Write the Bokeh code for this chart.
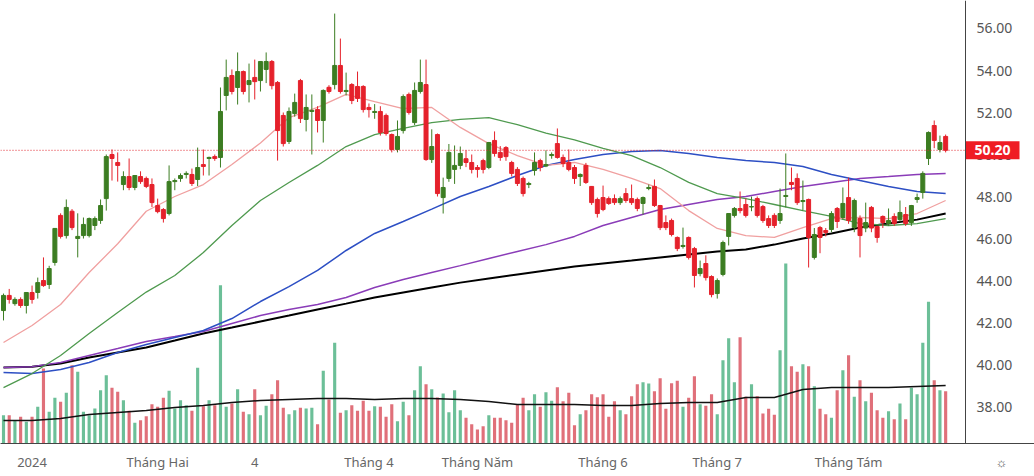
from bokeh.plotting import figure
from bokeh.models import Range1d, FixedTicker, Span, ColumnDataSource
from bokeh.core.properties import value
from bokeh.embed import file_html
from bokeh.resources import INLINE

# ---------------- data ----------------
opens = [42.57,43.29,42.9,43.1,42.81,43.43,43.43,44.0,43.81,44.86,
         47.1,46.14,47.3,46.0,46.14,46.14,46.62,46.86,47.9,50.0,
         49.62,48.57,48.95,48.43,48.95,48.86,48.57,47.57,47.38,47.19,
         48.71,48.86,49.05,49.05,48.81,49.52,49.81,49.9,49.86,52.81,
         53.76,53.19,53.95,53.33,53.67,53.52,54.05,54.43,53.43,51.86,
         50.62,51.95,53.52,51.67,52.05,52.14,51.62,53.2,53.33,54.24,
         53.0,53.33,53.24,53.24,52.24,52.0,52.05,51.86,50.95,50.24,
         51.14,52.86,51.52,53.0,53.33,49.76,50.95,47.95,48.86,49.29,
         49.48,49.8,49.62,49.38,49.71,49.38,50.67,50.1,50.33,49.62,
         49.29,48.86,48.57,49.24,49.71,49.45,49.95,50.52,49.86,49.62,
         49.38,48.95,49.48,48.48,47.86,47.95,47.9,47.9,47.71,48.14,
         47.9,47.86,47.67,48.38,48.48,47.57,46.76,46.86,46.05,45.62,
         46.05,45.52,44.33,44.81,44.19,43.38,44.29,46.1,47.1,47.43,
         47.62,47.5,47.9,47.52,46.95,47.1,46.86,48.0,48.67,48.86,
         47.76,47.86,45.1,46.52,46.38,46.43,47.43,47.0,47.95,46.52,
         46.95,46.5,47.48,46.57,47.05,46.71,47.05,46.9,47.14,46.76,
         47.86,48.19,49.81,51.38,50.24,50.86]
highs = [43.38,43.6,43.2,43.2,43.45,43.76,44.14,45.1,44.7,46.5,
         47.2,47.86,47.4,47.2,47.0,47.0,47.05,47.86,50.0,50.24,
         50.1,49.2,49.81,49.0,49.2,48.95,48.86,47.9,47.45,49.48,
         48.86,49.1,49.2,49.33,50.33,50.24,49.9,50.0,53.19,54.52,
         54.05,54.86,54.0,54.33,54.52,54.43,54.86,54.5,53.5,52.0,
         52.24,52.9,53.6,52.86,52.86,52.3,53.1,53.3,56.71,55.52,
         53.9,53.4,53.95,53.3,52.43,52.4,52.3,51.95,51.0,51.62,
         52.86,52.95,53.43,54.52,54.52,51.2,51.0,48.9,50.5,50.43,
         50.38,50.2,50.0,49.5,49.8,50.6,51.1,50.4,50.4,49.7,
         49.4,48.95,48.7,50.1,49.8,50.2,50.1,51.24,50.0,50.24,
         49.5,49.1,49.6,48.5,47.95,48.52,48.0,48.1,48.0,48.4,
         48.57,47.95,48.0,48.57,48.81,47.6,47.1,46.95,46.1,46.52,
         46.1,45.6,44.95,45.2,44.25,44.1,45.9,47.19,47.5,48.24,
         47.9,48.0,48.0,47.6,47.1,47.2,48.38,50.05,49.38,49.1,
         48.76,47.9,46.5,46.6,46.5,47.3,47.5,48.43,48.9,47.9,
         47.1,47.71,47.55,46.6,47.1,47.43,47.2,47.81,47.5,47.6,
         48.14,49.2,51.1,51.62,50.9,50.95]
lows = [42.1,42.9,42.8,42.7,42.43,42.9,43.14,43.7,43.6,44.71,
        46.0,46.0,46.4,45.1,46.0,46.05,46.4,46.7,47.33,48.76,
        48.71,48.3,48.3,48.3,48.6,48.4,47.5,47.2,46.76,47.1,
        48.3,48.7,48.86,48.5,48.5,49.0,49.0,49.7,49.38,52.1,
        52.86,52.38,52.86,52.48,52.62,53.0,53.4,53.1,49.71,50.38,
        50.5,51.8,51.5,51.1,50.0,51.05,50.57,52.9,53.1,52.9,
        52.81,52.4,52.5,52.0,51.76,51.7,50.9,50.9,50.1,50.1,
        51.0,51.9,51.4,52.9,49.7,49.6,48.0,47.19,48.7,48.6,
        49.3,49.4,49.1,48.9,49.1,49.3,49.9,49.7,49.7,48.95,
        48.5,48.0,48.4,49.0,49.2,49.4,49.8,49.8,49.4,49.2,
        48.6,48.5,48.6,47.6,47.0,47.3,47.6,47.6,47.6,47.7,
        47.6,47.3,47.14,48.3,47.5,46.4,46.4,46.1,45.4,45.52,
        45.0,43.67,44.2,44.0,43.2,43.14,44.2,45.67,47.0,47.2,
        47.0,47.3,47.0,46.75,46.5,46.5,46.7,47.48,48.3,47.6,
        47.33,44.62,45.0,45.3,46.1,46.3,46.5,46.9,46.7,46.3,
        45.1,46.3,46.3,45.8,46.5,46.6,46.6,46.8,46.6,46.6,
        47.7,47.9,49.5,50.3,50.1,50.1]
closes = [43.29,43.1,43.1,42.81,43.43,43.1,43.9,43.76,44.57,46.48,
          46.1,47.48,46.52,46.1,46.67,46.95,46.95,47.57,49.9,49.81,
          49.48,48.95,48.43,49.0,48.71,48.48,47.71,47.28,46.95,48.71,
          48.76,49.0,49.1,48.62,49.38,49.43,49.86,49.81,52.05,53.67,
          53.0,53.95,53.0,53.52,53.47,54.43,54.43,53.28,51.14,50.52,
          52.05,52.48,51.71,52.24,52.1,51.62,53.05,53.0,54.24,53.0,
          53.05,52.57,52.67,52.14,52.14,52.05,51.05,51.0,50.24,50.86,
          52.76,52.0,53.05,53.43,49.76,50.38,48.14,48.43,50.1,49.48,
          50.05,49.62,49.29,49.29,49.29,50.57,50.05,49.86,49.9,49.1,
          48.62,48.14,48.62,49.62,49.38,49.52,50.0,49.86,49.57,49.29,
          48.86,49.05,48.67,47.71,47.19,47.38,47.67,47.71,47.9,47.81,
          47.71,47.43,47.95,48.43,47.57,46.52,46.52,46.19,45.52,45.67,
          45.1,44.24,44.57,44.14,43.33,44.0,45.81,47.19,47.43,47.33,
          47.1,47.52,47.1,46.86,46.62,46.62,47.19,48.05,48.57,47.71,
          47.81,46.05,46.19,46.05,46.29,47.19,46.81,47.67,46.86,47.81,
          46.14,46.76,46.5,46.05,46.76,46.86,46.71,47.24,46.71,47.57,
          47.95,49.1,51.05,50.67,50.57,50.2]
# volume (10k shares)
volumes = [283,283,227,267,217,267,367,750,317,457,
           417,507,783,717,317,283,350,533,683,557,
           517,433,327,207,233,273,393,367,457,527,
           350,433,383,327,757,373,433,383,1583,367,
           400,543,317,293,543,283,377,493,633,357,
           293,333,357,350,357,193,727,440,1007,307,
           333,383,327,427,327,373,367,267,393,223,
           417,283,533,773,593,543,460,500,313,533,
           333,257,193,140,173,283,257,257,233,207,
           393,457,333,493,367,513,427,563,423,507,
           183,293,333,493,463,493,267,423,333,293,
           473,593,613,600,523,653,347,603,627,367,
           457,673,393,377,493,293,833,1053,613,1063,
           467,593,473,300,347,287,933,1800,773,717,
           793,773,573,347,293,257,533,733,883,467,
           633,423,507,333,257,323,243,400,243,557,
           493,1007,1417,633,533,523]

# moving averages sampled every 5 sessions
ma_idx = list(range(0, 166, 5))
ma10 = [41.05,41.86,42.86,44.38,45.75,47.3,48.0,48.57,49.52,50.55,51.76,52.24,52.86,52.52,52.19,52.24,51.29,50.52,
        49.95,49.48,49.62,49.29,48.86,48.38,47.33,46.48,46.14,46.05,46.52,46.95,47.0,46.95,47.19,47.81]
ma20 = [38.9,39.57,40.43,41.48,42.48,43.45,44.24,45.33,46.62,47.81,48.67,49.48,50.38,50.95,51.24,51.52,51.67,51.76,
        51.42,51.02,50.7,50.29,49.95,49.38,48.67,48.14,47.9,47.62,47.33,47.05,46.71,46.62,46.71,46.95]
ma50 = [39.62,39.57,39.76,40.1,40.57,40.95,41.29,41.62,42.19,43.0,43.71,44.48,45.43,46.24,46.81,47.4,48.0,48.48,
        49.0,49.48,49.76,50.0,50.14,50.19,50.05,49.86,49.71,49.62,49.43,49.05,48.76,48.48,48.24,48.14]
ma100 = [39.86,39.9,40.1,40.43,40.76,41.1,41.33,41.57,41.95,42.33,42.62,42.86,43.19,43.67,44.05,44.38,44.71,45.05,
         45.38,45.71,46.1,46.62,47.0,47.38,47.62,47.86,48.0,48.24,48.48,48.67,48.86,48.95,49.05,49.1]
ma200 = [39.86,39.9,40.05,40.33,40.57,40.81,41.14,41.48,41.76,42.05,42.33,42.62,42.9,43.19,43.43,43.67,43.9,44.1,
         44.29,44.48,44.67,44.81,44.95,45.1,45.24,45.38,45.48,45.71,46.0,46.24,46.52,46.71,46.9,47.19]
vol_ma = [230,230,250,290,310,330,360,380,410,430,440,450,450,440,450,450,440,420,
          390,390,390,380,380,400,410,410,460,460,540,560,560,560,570,580]

tick_idx = [5, 27, 44, 64, 83, 105, 125, 148]
tick_labels = ["2024", "Tháng Hai", "4", "Tháng 4", "Tháng Năm", "Tháng 6", "Tháng 7", "Tháng Tám"]
price_ticks = [38, 40, 42, 44, 46, 48, 50, 52, 54, 56]
last_price = 50.20

# ---------------- layout / styling ----------------
UP, DOWN = "#3c7d22", "#e5212b"
VUP, VDOWN = "#6cbf98", "#e0707a"
FONT = "Noto Sans"
W, FRAME_H = 1034, 443
PX = 5.71            # pixels per session
X0 = 3               # pixel of first session
def px2x(px):
    return (px - X0) / PX
Y_LO, Y_HI = 36.24, 57.333
PPU = FRAME_H / (Y_HI - Y_LO)   # pixels per price unit

n = len(closes)
idx = list(range(n))
up = [c >= o for o, c in zip(opens, closes)]
src = ColumnDataSource(dict(
    x=idx, o=opens, h=highs, l=lows, c=closes,
    top=[max(o, c) for o, c in zip(opens, closes)],
    bot=[min(o, c) for o, c in zip(opens, closes)],
    col=[UP if u else DOWN for u in up],
    vcol=[VUP if u else VDOWN for u in up],
    v=volumes,
))

p = figure(frame_width=W, frame_height=FRAME_H,
           x_range=Range1d(px2x(0), px2x(W)), y_range=Range1d(Y_LO, Y_HI),
           y_axis_location=None, toolbar_location=None, output_backend="svg",
           min_border_left=0, min_border_top=0, min_border_right=0, min_border_bottom=33)
p.extra_y_ranges = {"vol": Range1d(0, 4430)}
p.background_fill_color = "white"
p.border_fill_color = "white"
p.outline_line_color = None
p.xgrid.visible = False
p.ygrid.visible = False

# volume
p.vbar(x="x", top="v", bottom=0, width=0.55, fill_color="vcol", line_color=None,
       y_range_name="vol", source=src)
p.line(ma_idx, vol_ma, y_range_name="vol", line_color="#111111", line_width=1.5)

# moving averages
p.line(ma_idx, ma200, line_color="#000000", line_width=2)
p.line(ma_idx, ma100, line_color="#8a3cb8", line_width=1.5)
p.line(ma_idx, ma50, line_color="#2d4fc4", line_width=1.5)
p.line(ma_idx, ma20, line_color="#4f9a4f", line_width=1.3)
p.line(ma_idx, ma10, line_color="#f0a0a0", line_width=1.3)

# candles
p.segment(x0="x", y0="l", x1="x", y1="h", line_color="col", line_width=1, source=src)
p.vbar(x="x", top="top", bottom="bot", width=0.7, fill_color="col", line_color="col", source=src)

# price scale (right column)
axis_x = px2x(965)
p.add_layout(Span(location=axis_x, dimension="height", line_color="#444444", line_width=1))
p.text(x=[px2x(976)] * len(price_ticks), y=price_ticks,
       text=[f"{t:.2f}" for t in price_ticks],
       text_font=value(FONT), text_font_size="14px", text_color="#555555",
       text_align="left", text_baseline="middle")

# last price line and tag
p.segment(x0=[px2x(0)], y0=[last_price], x1=[axis_x], y1=[last_price],
          line_color="#e0262e", line_dash="1 2", line_width=1)
half_h = 9 / PPU
p.quad(left=[axis_x], right=[px2x(1019)], bottom=[last_price - half_h], top=[last_price + half_h],
       fill_color="#ef1c24", line_color=None)
p.text(x=[px2x(992)], y=[last_price], text=[f"{last_price:.2f}"],
       text_font=value(FONT), text_font_size="14px", text_font_style="bold",
       text_color="white", text_align="center", text_baseline="middle")

# time axis
xa = p.xaxis[0]
gear_x = px2x(1001)
xa.ticker = FixedTicker(ticks=tick_idx + [gear_x])
overrides = {t: lab for t, lab in zip(tick_idx, tick_labels)}
overrides[gear_x] = "☼"
xa.major_label_overrides = overrides
xa.major_tick_line_color = None
xa.minor_tick_line_color = None
xa.major_tick_out = 0
xa.minor_tick_out = 0
xa.axis_line_color = "#444444"
xa.major_label_text_color = "#666666"
xa.major_label_text_font = FONT
xa.major_label_text_font_size = "13px"
xa.major_label_standoff = 9

open("out.html", "w").write(file_html(p, INLINE))
